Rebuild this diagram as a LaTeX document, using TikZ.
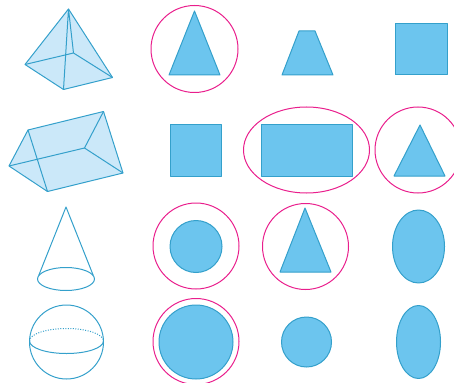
\documentclass[tikz,border=0pt]{standalone}
\definecolor{edgeblue}{RGB}{52,160,203}
\definecolor{fillblue}{RGB}{108,197,238}
\definecolor{paleblue}{RGB}{203,232,249}
\definecolor{ringpink}{RGB}{233,30,140}
\tikzset{
  solidshape/.style={draw=edgeblue,fill=fillblue,line width=1pt,line join=round},
  wire/.style={draw=edgeblue,line width=1pt,line join=round},
  paleshape/.style={draw=edgeblue,fill=paleblue,line width=1pt,line join=round},
  ring/.style={draw=ringpink,line width=1pt}
}
\begin{document}
\begin{tikzpicture}[x=1pt,y=-1pt]
\useasboundingbox (0,0) rectangle (454,382);
\clip (0,0) rectangle (454,382);
% pyramid
\coordinate (pa) at (68.5,9);
\coordinate (pl) at (25,64.5);
\coordinate (pf) at (63.5,89.5);
\coordinate (pr) at (112.5,77.5);
\coordinate (pb) at (73.5,53);
\path[paleshape] (pa) -- (pl) -- (pf) -- (pr) -- cycle;
\draw[wire] (pa) -- (pf) (pa) -- (pb) (pl) -- (pb) -- (pr);
% prism
\coordinate (ta) at (28,130);
\coordinate (tb) at (103.5,111.5);
\coordinate (tl) at (9,166);
\coordinate (tf) at (47.5,191.5);
\coordinate (tr) at (123,173);
\coordinate (tk) at (84.5,148);
\path[paleshape] (tl) -- (ta) -- (tb) -- (tr) -- (tf) -- cycle;
\draw[wire] (ta) -- (tf) (tl) -- (tk) -- (tb) (tk) -- (tr);
% cone
\coordinate (ca) at (66,207);
\draw[wire] (66,279) ellipse [x radius=28.5,y radius=11.5];
\draw[wire] (38.7,275.5) -- (ca) -- (93.3,275.5);
% sphere
\draw[wire] (66.5,342) circle [radius=37];
\draw[wire] (29.5,341) arc [start angle=180,end angle=360,x radius=37,y radius=-12.5];
\draw[wire,dash pattern=on 1pt off 1.5pt] (29.5,341) arc [start angle=180,end angle=0,x radius=37,y radius=-12.5];
% row 1
\draw[ring] (194.5,49) circle [radius=43.5];
\path[solidshape] (194.5,11) -- (169,75) -- (220,75) -- cycle;
\path[solidshape] (299,31) -- (315,31) -- (333,75) -- (282,75) -- cycle;
\path[solidshape] (395,23.5) rectangle (447,75);
% row 2
\path[solidshape] (170,125) rectangle (221,176);
\path[solidshape] (261.5,125) rectangle (352,176);
\draw[ring] (306.5,150) ellipse [x radius=63,y radius=43];
\draw[ring] (418,150) circle [radius=43];
\path[solidshape] (420,125) -- (394,176) -- (445,176) -- cycle;
% row 3
\draw[ring] (196,246) circle [radius=43];
\path[solidshape] (196,246.5) circle [radius=26];
\draw[ring] (305.5,246.5) circle [radius=43];
\path[solidshape] (305,208) -- (280,272) -- (331,272) -- cycle;
\path[solidshape] (418.5,246.5) ellipse [x radius=26,y radius=36.5];
% row 4
\draw[ring] (196,341.5) circle [radius=43];
\path[solidshape] (196,342) circle [radius=37];
\path[solidshape] (306.5,342) circle [radius=25];
\path[solidshape] (418.5,342) ellipse [x radius=22,y radius=36.5];
\end{tikzpicture}
\end{document}
